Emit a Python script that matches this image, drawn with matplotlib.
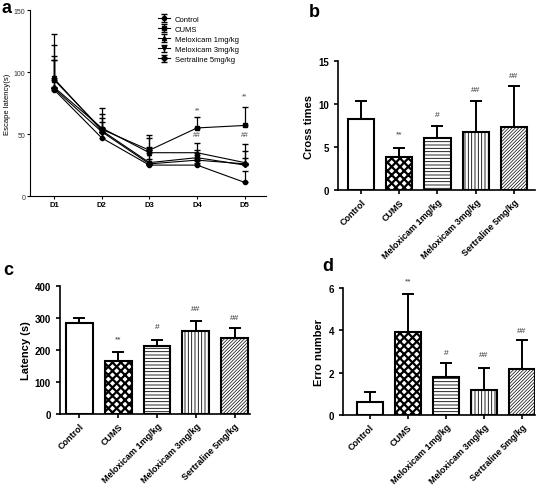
import numpy as np
import matplotlib
matplotlib.use('Agg')
import matplotlib.pyplot as plt

plt.rcParams['font.family'] = ['Liberation Sans', 'DejaVu Sans']
plt.rcParams['hatch.linewidth'] = 0.7

# ---- panel a: escape latency over days ----
days = ['D1', 'D2', 'D3', 'D4', 'D5']
groups = ['Control', 'CUMS', 'Meloxicam 1mg/kg', 'Meloxicam 3mg/kg', 'Sertraline 5mg/kg']
line_means = {
    'Control': [86, 47, 25, 25, 11],
    'CUMS': [94, 54, 37, 55, 57],
    'Meloxicam 1mg/kg': [88, 55, 35, 35, 27],
    'Meloxicam 3mg/kg': [95, 53, 27, 31, 25],
    'Sertraline 5mg/kg': [87, 52, 26, 29, 26],
}
line_upper = {
    'Control': [110, 55, 30, 27, 20],
    'CUMS': [131, 71, 49, 64, 72],
    'Meloxicam 1mg/kg': [113, 66, 47, 43, 42],
    'Meloxicam 3mg/kg': [122, 63, 40, 37, 36],
    'Sertraline 5mg/kg': [110, 60, 37, 33, 31],
}
line_markers = ['o', 's', '^', 'v', 'D']
a_marks = [(3, 67, '**'), (4, 78, '**'), (3, 47, '##'), (4, 47, '##')]

# ---- bar panels ----
bar_labels = ['Control', 'CUMS', 'Meloxicam 1mg/kg', 'Meloxicam 3mg/kg', 'Sertraline 5mg/kg']
cross_mean = [8.3, 3.9, 6.1, 6.8, 7.4]
cross_upper = [10.4, 4.9, 7.5, 10.4, 12.1]
cross_marks = ['', '**', '#', '##', '##']
cross_mark_y = [0, 6.5, 8.8, 11.7, 13.3]

lat_mean = [284, 165, 214, 259, 238]
lat_upper = [301, 195, 230, 290, 269]
lat_marks = ['', '**', '#', '##', '##']
lat_mark_y = [0, 234, 274, 330, 300]

err_mean = [0.6, 3.9, 1.8, 1.2, 2.15]
err_upper = [1.1, 5.7, 2.43, 2.23, 3.53]
err_marks = ['', '**', '#', '##', '##']
err_mark_y = [0, 6.3, 2.95, 2.83, 4.0]

hatches = [None, 'xxxx', '-----', '|||||', '//////////']
hatch_lw = [0.7, 1.6, 0.6, 0.6, 0.5]

fig = plt.figure(figsize=(5.42, 4.89), dpi=100)


def style_axes(ax, lw=1.0):
    ax.spines['top'].set_visible(False)
    ax.spines['right'].set_visible(False)
    ax.spines['left'].set_linewidth(lw)
    ax.spines['bottom'].set_linewidth(lw)
    ax.tick_params(direction='out', length=3, width=lw)


# ---- a ----
ax1 = fig.add_axes([0.0554, 0.597, 0.435, 0.380])
x = np.arange(1, 6)
for g, m in zip(groups, line_markers):
    mean = np.array(line_means[g])
    up = np.array(line_upper[g])
    ax1.errorbar(x, mean, yerr=[np.zeros(5), up - mean], color='black', lw=0.8,
                 marker=m, ms=3.0, capsize=2.5, elinewidth=0.9, label=g)
for xi, yi, s in a_marks:
    ax1.text(x[xi], yi, s, ha='center', va='bottom', fontsize=5, color='#444444')
ax1.set_xlim(0.5, 5.44)
ax1.set_ylim(0, 150)
ax1.set_xticks(x)
ax1.set_xticklabels(days, fontsize=5.5, fontweight='bold')
ax1.set_yticks([0, 50, 100, 150])
ax1.set_yticklabels(['0', '50', '100', '150'], fontsize=5, color='#333333')
ax1.set_ylabel('Escape latency(s)', fontsize=5.5, labelpad=1.5)
style_axes(ax1, 0.8)
ax1.tick_params(length=2, pad=1.5)
ax1.legend(loc='upper left', bbox_to_anchor=(0.52, 1.0), frameon=False, fontsize=5.5,
           handlelength=1.6, labelspacing=0.35, borderpad=0.2, handletextpad=0.6)


def bar_panel(rect, mean, upper, marks, mark_y, ylim, yticks, ylabel, xlim):
    ax = fig.add_axes(rect)
    xb = np.arange(len(mean))
    mean = np.array(mean)
    upper = np.array(upper)
    ax.errorbar(xb, mean, yerr=[np.zeros(len(mean)), upper - mean], fmt='none',
                ecolor='black', elinewidth=1.4, capsize=4, capthick=1.4, zorder=1)
    for i in range(len(mean)):
        bars = ax.bar(xb[i], mean[i], width=0.69, facecolor='white', edgecolor='black',
                      linewidth=1.5, hatch=hatches[i], zorder=2)
        for b in bars:
            try:
                b.set_hatch_linewidth(hatch_lw[i])
            except AttributeError:
                pass
    for i, s in enumerate(marks):
        if s:
            ax.text(xb[i], mark_y[i], s, ha='center', va='center', fontsize=6,
                    color='#333333', clip_on=False)
    ax.set_xlim(*xlim)
    ax.set_ylim(*ylim)
    ax.set_yticks(yticks)
    ax.set_yticklabels([str(t) for t in yticks], fontsize=7, fontweight='bold')
    ax.set_xticks(xb)
    ax.set_xticklabels(bar_labels, rotation=45, ha='right', rotation_mode='anchor',
                       fontsize=6.5, fontweight='bold')
    ax.tick_params(axis='x', pad=2)
    ax.set_ylabel(ylabel, fontsize=8, fontweight='bold', labelpad=3)
    style_axes(ax, 1.2)
    return ax


bar_panel([0.6236, 0.609, 0.3635, 0.2638], cross_mean, cross_upper, cross_marks,
          cross_mark_y, (0, 15), [0, 5, 10, 15], 'Cross times', (-0.6, 4.55))
bar_panel([0.1107, 0.1507, 0.3506, 0.263], lat_mean, lat_upper, lat_marks,
          lat_mark_y, (0, 400), [0, 100, 200, 300, 400], 'Latency (s)', (-0.5, 4.4))
bar_panel([0.633, 0.1493, 0.354, 0.2603], err_mean, err_upper, err_marks,
          err_mark_y, (0, 6), [0, 2, 4, 6], 'Erro number', (-0.7, 4.34))

# panel letters
fig.text(0.002, 0.999, 'a', fontsize=13, fontweight='bold', va='top', ha='left')
fig.text(0.570, 0.992, 'b', fontsize=13, fontweight='bold', va='top', ha='left')
fig.text(0.006, 0.465, 'c', fontsize=13, fontweight='bold', va='top', ha='left')
fig.text(0.594, 0.472, 'd', fontsize=13, fontweight='bold', va='top', ha='left')

fig.savefig('out.png', dpi=100)
